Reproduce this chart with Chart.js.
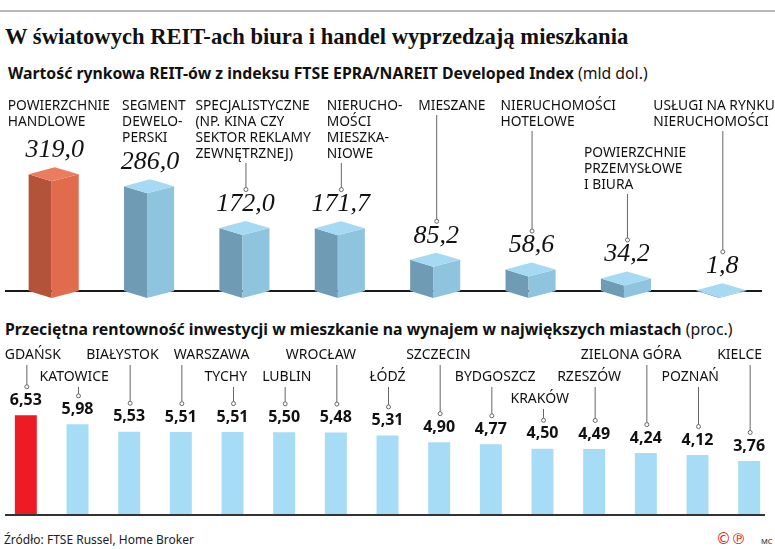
<!DOCTYPE html>
<html lang="pl">

<head>
  <meta charset="UTF-8">
  <title>REIT-y i rentowność mieszkań</title>
  <script src="https://cdn.jsdelivr.net/npm/chart.js"></script>
  <style>
    body {
      margin: 0;
      background: #fff;
    }

    #page {
      position: relative;
      width: 775px;
      height: 549px;
      overflow: hidden;
      background: #fff;
      color: #111;
      font-family: "Noto Sans", sans-serif;
    }

    .rule {
      position: absolute;
      left: 0;
      top: 10px;
      width: 775px;
      height: 2px;
      background: #b8b8b8;
    }

    h1 {
      position: absolute;
      left: 5px;
      top: 24px;
      margin: 0;
      font: bold 22.6px "Liberation Serif", serif;
      white-space: nowrap;
    }

    h2 {
      position: absolute;
      margin: 0;
      font-size: 15.8px;
      font-weight: bold;
      white-space: nowrap;
    }

    h2 span {
      font-weight: normal;
    }

    canvas {
      position: absolute;
      left: 0;
    }

    .source {
      position: absolute;
      left: 4px;
      top: 531px;
      font: 12px "Noto Sans", sans-serif;
      color: #222;
    }

    .cp {
      position: absolute;
      left: 716px;
      top: 530px;
      font: 15px "DejaVu Sans", sans-serif;
      color: #e2231a;
    }

    .mc {
      position: absolute;
      left: 761px;
      top: 536px;
      font: 7.5px "Noto Sans", sans-serif;
      color: #222;
    }
  </style>
</head>

<body>
  <div id="page">
    <div class="rule"></div>
    <h1>W światowych REIT-ach biura i handel wyprzedzają mieszkania</h1>
    <h2 style="left:8px; top:62px">Wartość rynkowa REIT-ów z indeksu FTSE EPRA/NAREIT Developed Index <span>(mld dol.)</span></h2>
    <canvas id="reit-chart" width="775" height="215" style="top:90px"></canvas>
    <h2 style="left:5px; top:318px">Przeciętna rentowność inwestycji w mieszkanie na wynajem w największych miastach <span>(proc.)</span></h2>
    <canvas id="yield-chart" width="775" height="182" style="top:340px"></canvas>
    <div class="source">Źródło: FTSE Russel, Home Broker</div>
    <div class="cp">©℗</div>
    <div class="mc">MC</div>
  </div>

  <script>
    // wartość rynkowa REIT-ów (mld dol.)
    const sectors = [
      ["POWIERZCHNIE", "HANDLOWE"],
      ["SEGMENT", "DEWELO-", "PERSKI"],
      ["SPECJALISTYCZNE", "(NP. KINA CZY", "SEKTOR REKLAMY", "ZEWNĘTRZNEJ)"],
      ["NIERUCHO-", "MOŚCI", "MIESZKA-", "NIOWE"],
      ["MIESZANE"],
      ["NIERUCHOMOŚCI", "HOTELOWE"],
      ["POWIERZCHNIE", "PRZEMYSŁOWE", "I BIURA"],
      ["USŁUGI NA RYNKU", "NIERUCHOMOŚCI"]
    ];
    const sectorValues = [319.0, 286.0, 172.0, 171.7, 85.2, 58.6, 34.2, 1.8];

    // rentowność najmu (proc.)
    const cities = ["GDAŃSK", "KATOWICE", "BIAŁYSTOK", "WARSZAWA", "TYCHY", "LUBLIN", "WROCŁAW", "ŁÓDŹ",
      "SZCZECIN", "BYDGOSZCZ", "KRAKÓW", "RZESZÓW", "ZIELONA GÓRA", "POZNAŃ", "KIELCE"];
    const yields = [6.53, 5.98, 5.53, 5.51, 5.51, 5.50, 5.48, 5.31, 4.90, 4.77, 4.50, 4.49, 4.24, 4.12, 3.76];

    // label placement (offset from bar centre, first line y, leader on/off)
    const sectorLabelDx = [-46, -27, -49, -13, -17, -30, -42, -68];
    const sectorLabelY = [16, 16, 16, 16, 16, 16, 63, 16];
    const sectorLeader = [false, false, true, true, true, true, true, true];
    const cityLabelDx = [-21, -38, -43, -7, -28, -22, -50, -18, -33, -36, -32, -37, -65, -36, -32];
    const cityRow = [0, 1, 0, 0, 1, 1, 0, 1, 0, 1, 2, 1, 0, 1, 0];

    const redPrism = ["#b2533a", "#e06b4d", "#ea7d60"];
    const bluePrism = ["#6f9bb5", "#8fc4de", "#a6daf3"];

    Chart.defaults.animation = false;
    Chart.defaults.responsive = false;

    function poly(ctx, pts, color) {
      ctx.beginPath();
      ctx.moveTo(pts[0][0], pts[0][1]);
      pts.slice(1).forEach(p => ctx.lineTo(p[0], p[1]));
      ctx.closePath();
      ctx.fillStyle = color;
      ctx.fill();
    }

    function leader(ctx, x, y1, y2) {
      ctx.save();
      ctx.strokeStyle = "#666";
      ctx.lineWidth = 1;
      ctx.beginPath();
      ctx.moveTo(x, y1);
      ctx.lineTo(x, y2);
      ctx.stroke();
      ctx.beginPath();
      ctx.arc(x, y2 + 1.5, 2, 0, Math.PI * 2);
      ctx.fillStyle = "#fff";
      ctx.fill();
      ctx.stroke();
      ctx.restore();
    }

    const prismPlugin = {
      id: "prism",
      beforeDatasetsDraw(chart) {
        const ctx = chart.ctx;
        const y0 = chart.scales.y.getPixelForValue(0);
        ctx.save();
        ctx.strokeStyle = "#1a1a1a";
        ctx.lineWidth = 2;
        ctx.beginPath();
        ctx.moveTo(5, y0);
        ctx.lineTo(762, y0);
        ctx.stroke();
        ctx.restore();
      },
      afterDatasetsDraw(chart) {
        const ctx = chart.ctx;
        chart.getDatasetMeta(0).data.forEach((bar, i) => {
          const w = bar.width, l = bar.x - w / 2, r = bar.x + w / 2;
          const fx = bar.x - 2, bx = bar.x + 1, d = 7;
          const t = bar.y, b = bar.base;
          const pal = i === 0 ? redPrism : bluePrism;
          poly(ctx, [[l, t], [fx, t + d], [fx, b + d], [l, b]], pal[0]);
          poly(ctx, [[fx, t + d], [r, t], [r, b], [fx, b + d]], pal[1]);
          poly(ctx, [[l, t], [bx, t - d], [r, t], [fx, t + d]], pal[2]);

          ctx.save();
          const vy = t - 24;
          ctx.fillStyle = "#111";
          ctx.textAlign = "center";
          ctx.textBaseline = "middle";
          ctx.font = "italic 26px 'Liberation Serif', serif";
          ctx.fillText(sectorValues[i].toFixed(1).replace(".", ","), bar.x + 1, vy);

          ctx.textAlign = "left";
          ctx.font = "13.8px 'Noto Sans', sans-serif";
          const lines = sectors[i];
          lines.forEach((s, k) => ctx.fillText(s, bar.x + sectorLabelDx[i], sectorLabelY[i] + k * 16));
          ctx.restore();
          if (sectorLeader[i]) {
            leader(ctx, bar.x + 1.5, sectorLabelY[i] + (lines.length - 1) * 16 + 9, vy - 16);
          }
        });
      }
    };

    const yieldPlugin = {
      id: "yieldLabels",
      afterDatasetsDraw(chart) {
        const ctx = chart.ctx;
        const y0 = chart.scales.y.getPixelForValue(chart.scales.y.min);
        ctx.save();
        ctx.strokeStyle = "#333";
        ctx.lineWidth = 2;
        ctx.beginPath();
        ctx.moveTo(5, y0 + 1);
        ctx.lineTo(765, y0 + 1);
        ctx.stroke();
        ctx.restore();

        chart.getDatasetMeta(0).data.forEach((bar, i) => {
          const vy = bar.y - 15;
          const rowY = 15 + cityRow[i] * 22;
          ctx.save();
          ctx.fillStyle = "#111";
          ctx.textBaseline = "middle";
          ctx.textAlign = "center";
          ctx.font = "bold 16px 'Noto Sans', sans-serif";
          ctx.fillText(yields[i].toFixed(2).replace(".", ","), bar.x, vy);
          ctx.textAlign = "left";
          ctx.font = "14px 'Noto Sans', sans-serif";
          ctx.fillText(cities[i], bar.x + cityLabelDx[i], rowY);
          ctx.restore();
          leader(ctx, bar.x + 1, rowY + 10, vy - 15);
        });
      }
    };

    new Chart(document.getElementById("reit-chart"), {
      type: "bar",
      data: {
        labels: sectors,
        datasets: [{
          data: sectorValues,
          backgroundColor: "rgba(0,0,0,0)",
          barPercentage: 0.525,
          categoryPercentage: 1
        }]
      },
      options: {
        layout: { padding: { left: 6, right: 6, top: 0, bottom: 14 } },
        plugins: { legend: { display: false }, tooltip: { enabled: false } },
        scales: {
          x: { display: false },
          y: { display: false, min: 0, max: 549 }
        }
      },
      plugins: [prismPlugin]
    });

    new Chart(document.getElementById("yield-chart"), {
      type: "bar",
      data: {
        labels: cities,
        datasets: [{
          data: yields,
          backgroundColor: yields.map((v, i) => i === 0 ? "#ed1c24" : "#a6dcf6"),
          barPercentage: 0.425,
          categoryPercentage: 1
        }]
      },
      options: {
        layout: { padding: { left: 0, right: 0, top: 51, bottom: 8 } },
        plugins: { legend: { display: false }, tooltip: { enabled: false } },
        scales: {
          x: { display: false },
          y: { display: false, min: 0.55, max: 8 }
        }
      },
      plugins: [yieldPlugin]
    });
  </script>
</body>

</html>
